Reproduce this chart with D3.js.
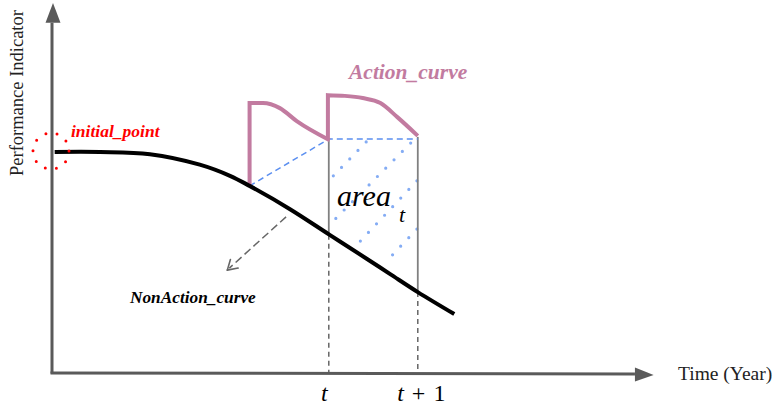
<!DOCTYPE html>
<html><head><meta charset="utf-8">
<script src="https://cdn.jsdelivr.net/npm/d3@7"></script>
<style>body{margin:0;background:#fff}svg{display:block}</style>
</head><body>
<svg id="c" width="774" height="414"></svg>
<script>
// ---- data (time in years, performance in arbitrary units) ----
const nonActionX = [0.03, 0.54, 1.10, 1.66, 2.00, 2.22, 2.67, 3.12, 3.54, 3.80, 4.11, 4.52];
const nonActionY = [6.11, 6.11, 6.05, 5.76, 5.45, 5.17, 4.53, 3.81, 3.14, 2.72, 2.22, 1.61];
const action1X = [2.22, 2.37, 2.56, 2.75, 3.12];
const action1Y = [7.47, 7.47, 7.33, 6.97, 6.44];
const action1Base = [2.22, 5.17];
const action2X = [3.10, 3.29, 3.49, 3.69, 3.88, 4.11];
const action2Y = [7.69, 7.67, 7.61, 7.47, 7.08, 6.56];
const action2Base = [3.10, 6.47];
const linkX = [2.22, 3.11, 4.11];
const linkY = [5.17, 6.47, 6.47];
const tickValues = [3.11, 4.11];
const tickLabels = ["t", "t + 1"];
const periodTop = [6.47, 6.53];
const periodCurve = [3.81, 2.22];
const hatch = [
  [[3.53, 6.39], [3.15, 5.42]],
  [[4.03, 6.36], [3.17, 4.22]],
  [[4.10, 5.31], [3.39, 3.44]],
  [[4.10, 3.97], [3.74, 3.03]]
];
const initialPoint = [0.0, 6.11];
const guideArrow = [[2.63, 4.31], [1.97, 2.83]];
const labels = {
  y: "Performance Indicator", x: "Time (Year)",
  init: "initial_point", action: "Action_curve", nonaction: "NonAction_curve",
  area: "area", sub: "t"
};

// ---- scales ----
const x = d3.scaleLinear().domain([0, 7]).range([52, 675]);
const y = d3.scaleLinear().domain([0, 10]).range([372, 12]);
const svg = d3.select("#c");
const serif = "'Liberation Serif','Times New Roman',serif";
const pink = "#c27ba0";

// hatch dots
hatch.forEach(s => {
  svg.append("line").attr("x1", x(s[0][0])).attr("y1", y(s[0][1]))
    .attr("x2", x(s[1][0])).attr("y2", y(s[1][1]))
    .attr("stroke", "#84acf4").attr("stroke-width", 3.2)
    .attr("stroke-linecap", "round").attr("stroke-dasharray", "0 11.8");
});

// vertical period lines
tickValues.forEach((t, i) => {
  svg.append("line").attr("x1", x(t)).attr("x2", x(t))
    .attr("y1", y(periodTop[i])).attr("y2", y(periodCurve[i]))
    .attr("stroke", "#808080").attr("stroke-width", 1.8);
  svg.append("line").attr("x1", x(t)).attr("x2", x(t))
    .attr("y1", y(periodCurve[i])).attr("y2", y(0))
    .attr("stroke", "#666").attr("stroke-width", 1.5).attr("stroke-dasharray", "5 4");
});

// blue dashed link
svg.append("path")
  .attr("d", d3.line().x(d => x(d[0])).y(d => y(d[1]))(linkX.map((v, i) => [v, linkY[i]])))
  .attr("fill", "none").attr("stroke", "#5b8ff0").attr("stroke-width", 1.5)
  .attr("stroke-dasharray", "6 4");

// action curves
const curveLine = d3.line().x(d => x(d[0])).y(d => y(d[1])).curve(d3.curveMonotoneX);
[[action1X, action1Y, action1Base], [action2X, action2Y, action2Base]].forEach(([ax, ay, base]) => {
  const pts = ax.map((v, i) => [v, ay[i]]);
  const cs = curveLine(pts);
  svg.append("path")
    .attr("d", "M" + x(base[0]) + "," + y(base[1]) + "L" + cs.slice(1))
    .attr("fill", "none").attr("stroke", pink).attr("stroke-width", 4)
    .attr("stroke-linejoin", "miter");
});

// non-action curve
svg.append("path")
  .attr("d", d3.line().x(d => x(d[0])).y(d => y(d[1])).curve(d3.curveCatmullRom.alpha(0.5))(nonActionX.map((v, i) => [v, nonActionY[i]])))
  .attr("fill", "none").attr("stroke", "#000").attr("stroke-width", 4);

// initial point dotted circle
svg.append("circle").attr("cx", x(initialPoint[0]) - 1).attr("cy", y(initialPoint[1]) - 1)
  .attr("r", 18).attr("fill", "none").attr("stroke", "#f00").attr("stroke-width", 3)
  .attr("stroke-linecap", "round").attr("stroke-dasharray", "0 11.3");

// gray guide arrow
const g0 = [x(guideArrow[0][0]), y(guideArrow[0][1])], g1 = [x(guideArrow[1][0]), y(guideArrow[1][1])];
svg.append("line").attr("x1", g0[0]).attr("y1", g0[1]).attr("x2", g1[0] + 2).attr("y2", g1[1] - 2)
  .attr("stroke", "#666").attr("stroke-width", 1.5).attr("stroke-dasharray", "8 4");
const ang = Math.atan2(g1[1] - g0[1], g1[0] - g0[0]);
[0.55, -0.55].forEach(da => {
  svg.append("line").attr("x1", g1[0]).attr("y1", g1[1])
    .attr("x2", g1[0] - 11 * Math.cos(ang + da)).attr("y2", g1[1] - 11 * Math.sin(ang + da))
    .attr("stroke", "#666").attr("stroke-width", 1.6).attr("stroke-linecap", "round");
});

// axes
const axisColor = "#5a5a5a";
svg.append("line").attr("x1", x(0)).attr("y1", y(0) + 1.5).attr("x2", x(0)).attr("y2", y(9.7))
  .attr("stroke", axisColor).attr("stroke-width", 3);
svg.append("path").attr("d", `M${x(0) + 1},${y(10.25)} L${x(0) + 8.5},${y(9.7)} L${x(0) - 6.5},${y(9.7)} Z`)
  .attr("fill", axisColor);
svg.append("line").attr("x1", x(0) - 1.5).attr("y1", y(0) + 1).attr("x2", x(6.55)).attr("y2", y(0) + 2)
  .attr("stroke", axisColor).attr("stroke-width", 3);
svg.append("path").attr("d", `M${x(6.76)},${y(0) + 3} L${x(6.55)},${y(0) - 4.5} L${x(6.55)},${y(0) + 9.5} Z`)
  .attr("fill", axisColor);

const xAxis = d3.axisBottom(x).tickValues(tickValues).tickSize(0).tickPadding(0)
  .tickFormat((d, i) => tickLabels[i]);
const ax = svg.append("g").attr("transform", `translate(0,${y(0)})`).call(xAxis);
ax.select(".domain").remove();
ax.selectAll("text").attr("dy", null).attr("y", 29)
  .attr("font-family", serif).attr("font-style", "italic").attr("font-size", 24).attr("fill", "#000")
  .attr("dx", (d, i) => i === 0 ? -5 : 3)
  .attr("word-spacing", 2);
ax.selectAll("text").filter((d, i) => i === 1).text(null).each(function () {
  const t = d3.select(this);
  t.append("tspan").attr("font-style", "italic").text("t");
  t.append("tspan").attr("font-style", "normal").text(" + 1");
});

// texts
svg.append("text").attr("transform", "translate(23,176) rotate(-90)")
  .attr("font-family", serif).attr("font-size", 18.5).attr("fill", "#222").text(labels.y);
svg.append("text").attr("x", 678).attr("y", 380)
  .attr("font-family", serif).attr("font-size", 19.5).attr("fill", "#222").text(labels.x);
svg.append("text").attr("x", 71).attr("y", 137)
  .attr("font-family", serif).attr("font-weight", "bold").attr("font-style", "italic")
  .attr("font-size", 17.5).attr("fill", "#f00").text(labels.init);
svg.append("text").attr("x", 349).attr("y", 79)
  .attr("font-family", serif).attr("font-weight", "bold").attr("font-style", "italic")
  .attr("font-size", 21.5).attr("fill", pink).text(labels.action);
svg.append("text").attr("x", 130).attr("y", 303)
  .attr("font-family", serif).attr("font-weight", "bold").attr("font-style", "italic")
  .attr("font-size", 17.3).attr("fill", "#000").text(labels.nonaction);
svg.append("text").attr("x", 337).attr("y", 206)
  .attr("font-family", serif).attr("font-style", "italic")
  .attr("font-size", 30).attr("fill", "#000").text(labels.area);
svg.append("text").attr("x", 399).attr("y", 222)
  .attr("font-family", serif).attr("font-style", "italic")
  .attr("font-size", 22).attr("fill", "#000").text(labels.sub);
</script>
</body></html>
